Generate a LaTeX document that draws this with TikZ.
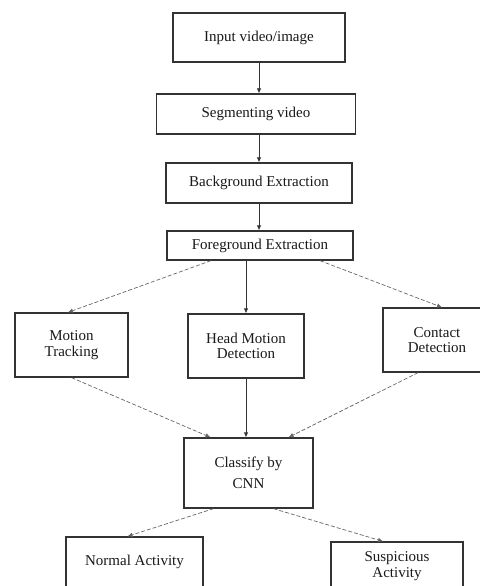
\documentclass[tikz,border=0pt]{standalone}
\usepackage{fontspec}
\setmainfont{Liberation Serif}
\usepackage{tikz}
\usetikzlibrary{shapes,arrows.meta,positioning}

\begin{document}
\begin{tikzpicture}[x=1bp, y=-1bp]
		\tikzstyle{Box}		= [rectangle, draw=black!80, line width=1.3bp, fill=white, align=center, inner sep=2bp, text=black!90, font=\fontsize{15bp}{15.5bp}\selectfont]
		\tikzstyle{Flow}	= [-{Latex[length=5bp, width=4.5bp]}, line width=0.8bp, black!80]
		\tikzstyle{Dash}	= [-{Latex[length=5bp, width=4.5bp]}, line width=0.7bp, black!60, dash pattern=on 4bp off 2bp]
		
		\useasboundingbox (0,0) rectangle (480,586);
		\clip (0,0) rectangle (480,586);
		
		\node (input) at (259.0, 37.5) [Box, minimum width=172bp, minimum height=49bp] {Input video/image};
		\node (seg) at (256.0, 114.0) [Box, minimum width=199bp, minimum height=40bp] {Segmenting video};
		\node (bg) at (259.0, 183.0) [Box, minimum width=186bp, minimum height=40bp] {Background Extraction};
		\node (fg) at (260.0, 245.5) [Box, minimum width=186bp, minimum height=29bp] {Foreground Extraction};
		\node (motion) at (71.5, 345.0) [Box, minimum width=113bp, minimum height=64bp] {Motion\\Tracking};
		\node (head) at (246.0, 346.0) [Box, minimum width=116bp, minimum height=64bp] {Head Motion\\Detection};
		\node (contact) at (437.0, 340.0) [Box, minimum width=108bp, minimum height=64bp] {Contact\\Detection};
		\node (cnn) at (248.5, 473.0) [Box, minimum width=129bp, minimum height=70bp] {Classify by\\[6bp]CNN};
		\node (normal) at (134.5, 562.0) [Box, minimum width=137bp, minimum height=50bp] {Normal Activity};
		\node (susp) at (397.0, 566.0) [Box, minimum width=132bp, minimum height=48bp] {Suspicious\\Activity};
		
		\draw (input.south) to (input.south |- seg.north) [Flow];
		\draw (bg.north |- seg.south) to (bg.north) [Flow];
		\draw (bg.south) to (bg.south |- fg.north) [Flow];
		\draw ([xshift=-49bp]fg.south) to ([xshift=-3.5bp]motion.north) [Dash];
		\draw (head.north |- fg.south) to (head.north) [Flow];
		\draw ([xshift=60bp]fg.south) to ([xshift=5bp]contact.north) [Dash];
		\draw (motion.south) to ([xshift=-38bp]cnn.north) [Dash];
		\draw (head.south) to (head.south |- cnn.north) [Flow];
		\draw ([xshift=-19bp]contact.south) to ([xshift=40bp]cnn.north) [Dash];
		\draw ([xshift=-35bp]cnn.south) to ([xshift=-7bp]normal.north) [Dash];
		\draw ([xshift=25bp]cnn.south) to ([xshift=-14bp]susp.north) [Dash];
	\end{tikzpicture}
\end{document}
